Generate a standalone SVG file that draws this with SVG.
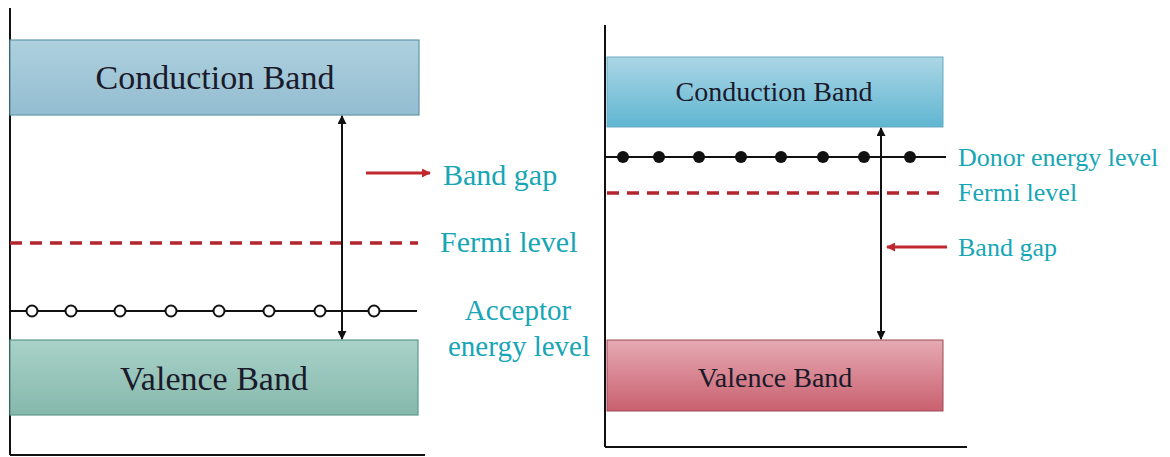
<svg xmlns="http://www.w3.org/2000/svg" width="1170" height="457" viewBox="0 0 1170 457">
<style>
.axis{stroke:#111;stroke-width:2;fill:none}
.lvl{stroke:#111;stroke-width:2;fill:none}
.fermi{stroke:#b3262d;stroke-width:3.5;stroke-dasharray:12 8;fill:none}
.gap{stroke:#111;stroke-width:2;fill:none}
.red{stroke:#c0282d;stroke-width:3;fill:none}
.band{font-family:"Liberation Serif","DejaVu Serif",serif;fill:#1a1a2a;text-anchor:middle}
.lbl{font-family:"Liberation Serif","DejaVu Serif",serif;fill:#17a6b6}
.hole{fill:#fff;stroke:#111;stroke-width:2}
.elec{fill:#111}
</style>
<defs>
<linearGradient id="cbL" x1="0" y1="0" x2="0" y2="1"><stop offset="0" stop-color="#aed0df"/><stop offset="1" stop-color="#93bdd0"/></linearGradient>
<linearGradient id="vbL" x1="0" y1="0" x2="0" y2="1"><stop offset="0" stop-color="#a9d2c9"/><stop offset="1" stop-color="#86b8ac"/></linearGradient>
<linearGradient id="cbR" x1="0" y1="0" x2="0" y2="1"><stop offset="0" stop-color="#acd6e6"/><stop offset="1" stop-color="#5fb6d1"/></linearGradient>
<linearGradient id="vbR" x1="0" y1="0" x2="0" y2="1"><stop offset="0" stop-color="#e6aab3"/><stop offset="1" stop-color="#c9606f"/></linearGradient>
<marker id="ah" viewBox="0 0 10 10" refX="9" refY="5" markerWidth="9" markerHeight="9" markerUnits="userSpaceOnUse" orient="auto-start-reverse"><path d="M0,0 L10,5 L0,10 z" fill="#111"/></marker>
<marker id="rh" viewBox="0 0 10 10" refX="9" refY="5" markerWidth="9" markerHeight="9" markerUnits="userSpaceOnUse" orient="auto"><path d="M0,0 L10,5 L0,10 z" fill="#c0282d"/></marker>
</defs>

<g id="left-axes">
<line class="axis" x1="10" y1="8" x2="10" y2="455"/>
<line class="axis" x1="10" y1="455" x2="425" y2="455"/>
</g>
<g id="left-conduction">
<rect x="10" y="40" width="409" height="75" fill="url(#cbL)" stroke="#5f98aa" stroke-width="1.2"/>
<text class="band" x="215" y="89" font-size="34">Conduction Band</text>
</g>
<g id="left-valence">
<rect x="10" y="340" width="408" height="75" fill="url(#vbL)" stroke="#5c9a8d" stroke-width="1.2"/>
<text class="band" x="214" y="390" font-size="34">Valence Band</text>
</g>
<g id="left-fermi">
<line class="fermi" x1="10" y1="243" x2="418" y2="243"/>
<text class="lbl" x="440" y="252" font-size="30">Fermi level</text>
</g>
<g id="left-acceptor">
<line class="lvl" x1="10" y1="311" x2="417" y2="311"/>
<circle class="hole" cx="32" cy="311" r="5.5"/>
<circle class="hole" cx="71" cy="311" r="5.5"/>
<circle class="hole" cx="120" cy="311" r="5.5"/>
<circle class="hole" cx="171" cy="311" r="5.5"/>
<circle class="hole" cx="219" cy="311" r="5.5"/>
<circle class="hole" cx="269" cy="311" r="5.5"/>
<circle class="hole" cx="320" cy="311" r="5.5"/>
<circle class="hole" cx="374" cy="311" r="5.5"/>
<text class="lbl" x="518" y="320" font-size="29" text-anchor="middle">Acceptor</text>
<text class="lbl" x="519" y="356" font-size="29" text-anchor="middle">energy level</text>
</g>
<g id="left-bandgap">
<text class="lbl" x="443" y="185" font-size="30">Band gap</text>
</g>

<g id="right-axes">
<line class="axis" x1="605" y1="25" x2="605" y2="447"/>
<line class="axis" x1="605" y1="447" x2="967" y2="447"/>
</g>
<g id="right-conduction">
<rect x="607" y="57" width="336" height="70" fill="url(#cbR)" stroke="#6aa9bf" stroke-width="1"/>
<text class="band" x="774" y="101" font-size="28">Conduction Band</text>
</g>
<g id="right-valence">
<rect x="607" y="340" width="336" height="71" fill="url(#vbR)" stroke="#9a4a55" stroke-width="1"/>
<text class="band" x="775" y="387" font-size="28">Valence Band</text>
</g>
<g id="right-donor">
<line class="lvl" x1="605" y1="157" x2="946" y2="157"/>
<circle class="elec" cx="623" cy="157" r="6"/>
<circle class="elec" cx="659" cy="157" r="6"/>
<circle class="elec" cx="699" cy="157" r="6"/>
<circle class="elec" cx="741" cy="157" r="6"/>
<circle class="elec" cx="781" cy="157" r="6"/>
<circle class="elec" cx="823" cy="157" r="6"/>
<circle class="elec" cx="864" cy="157" r="6"/>
<circle class="elec" cx="910" cy="157" r="6"/>
<text class="lbl" x="958" y="166" font-size="26">Donor energy level</text>
</g>
<g id="right-fermi">
<line class="fermi" x1="607" y1="193" x2="945" y2="193"/>
<text class="lbl" x="958" y="201" font-size="26">Fermi level</text>
</g>
<g id="right-bandgap">
<text class="lbl" x="958" y="256" font-size="26">Band gap</text>
</g>

<g id="connectors">
<line class="gap" x1="342" y1="116" x2="342" y2="339" marker-start="url(#ah)" marker-end="url(#ah)"/>
<line class="red" x1="366" y1="173" x2="430" y2="173" marker-end="url(#rh)"/>
<line class="gap" x1="881" y1="128" x2="881" y2="339" marker-start="url(#ah)" marker-end="url(#ah)"/>
<line class="red" x1="947" y1="247" x2="887" y2="247" marker-end="url(#rh)"/>
</g>
</svg>
